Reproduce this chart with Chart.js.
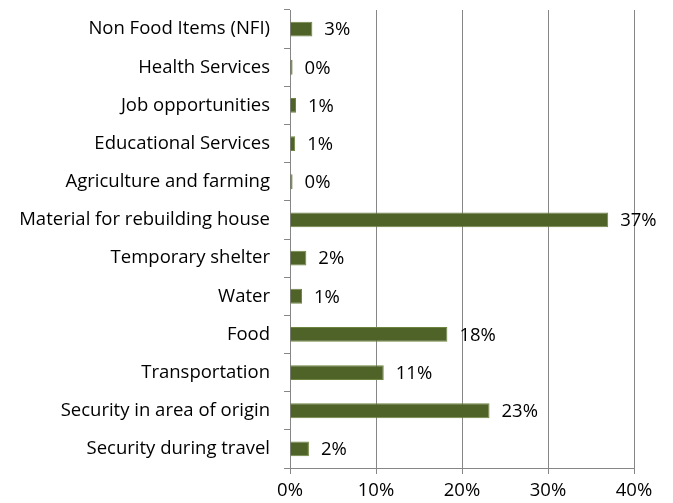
<!DOCTYPE html>
<html>
<head>
<meta charset="utf-8">
<script src="https://cdn.jsdelivr.net/npm/chart.js@4/dist/chart.umd.min.js"></script>
<style>
  html, body { margin: 0; padding: 0; background: #ffffff; }
  #wrap { width: 673px; height: 503px; position: relative; }
</style>
</head>
<body>
<div id="wrap"><canvas id="c" width="673" height="503"></canvas></div>
<script>
const categories = [
  "Non Food Items (NFI)",
  "Health Services",
  "Job opportunities",
  "Educational Services",
  "Agriculture and farming",
  "Material for rebuilding house",
  "Temporary shelter",
  "Water",
  "Food",
  "Transportation",
  "Security in area of origin",
  "Security during travel"
];
const shares = [2.6, 0.3, 0.7, 0.6, 0.3, 37.0, 1.9, 1.4, 18.3, 10.9, 23.2, 2.2];
const xTicks = [0, 10, 20, 30, 40];

const FONT = "'Open Sans', 'Noto Sans', sans-serif";
const FONT_SIZE = 18.5;

const labelPlugin = {
  id: 'barLabels',
  afterDatasetsDraw(chart) {
    const ctx = chart.ctx;
    const meta = chart.getDatasetMeta(0);
    ctx.save();
    ctx.font = FONT_SIZE + "px " + FONT;
    ctx.fillStyle = "#000000";
    ctx.textAlign = "left";
    ctx.textBaseline = "middle";
    meta.data.forEach((bar, i) => {
      ctx.fillText(Math.round(shares[i]) + "%", bar.x + 12, bar.y + 1);
    });
    ctx.restore();
  }
};

new Chart(document.getElementById('c'), {
  type: 'bar',
  data: {
    labels: categories,
    datasets: [{
      data: shares,
      backgroundColor: '#4F6228',
      borderColor: '#6E8540',
      borderWidth: 1,
      borderSkipped: 'start',
      barPercentage: 0.39,
      categoryPercentage: 1.0
    }]
  },
  options: {
    indexAxis: 'y',
    responsive: false,
    animation: false,
    devicePixelRatio: 1,
    layout: { padding: { top: 10, right: 39, bottom: 0, left: 0 } },
    plugins: {
      legend: { display: false },
      tooltip: { enabled: false }
    },
    scales: {
      x: {
        min: 0,
        max: 40,
        afterBuildTicks(scale) {
          scale.ticks = xTicks.map(v => ({ value: v }));
        },
        afterFit(scale) { scale.height = 35; scale.paddingLeft = 0; scale.paddingRight = 0; },
        grid: {
          color: '#868686',
          lineWidth: 1,
          drawOnChartArea: true,
          drawTicks: true,
          tickLength: 6,
          tickColor: '#868686'
        },
        border: { display: true, color: '#868686', width: 1 },
        ticks: {
          color: '#000000',
          font: { family: FONT, size: FONT_SIZE },
          padding: 6,
          maxRotation: 0,
          callback: v => v + '%'
        }
      },
      y: {
        afterFit(scale) { scale.width = 290; scale.paddingTop = 0; scale.paddingBottom = 0; },
        grid: {
          offset: true,
          drawOnChartArea: false,
          drawTicks: true,
          tickLength: 6,
          color: '#868686'
        },
        border: { display: true, color: '#868686', width: 1 },
        ticks: {
          color: '#000000',
          font: { family: FONT, size: FONT_SIZE },
          padding: 14,
          autoSkip: false
        }
      }
    }
  },
  plugins: [labelPlugin]
});
</script>
</body>
</html>
